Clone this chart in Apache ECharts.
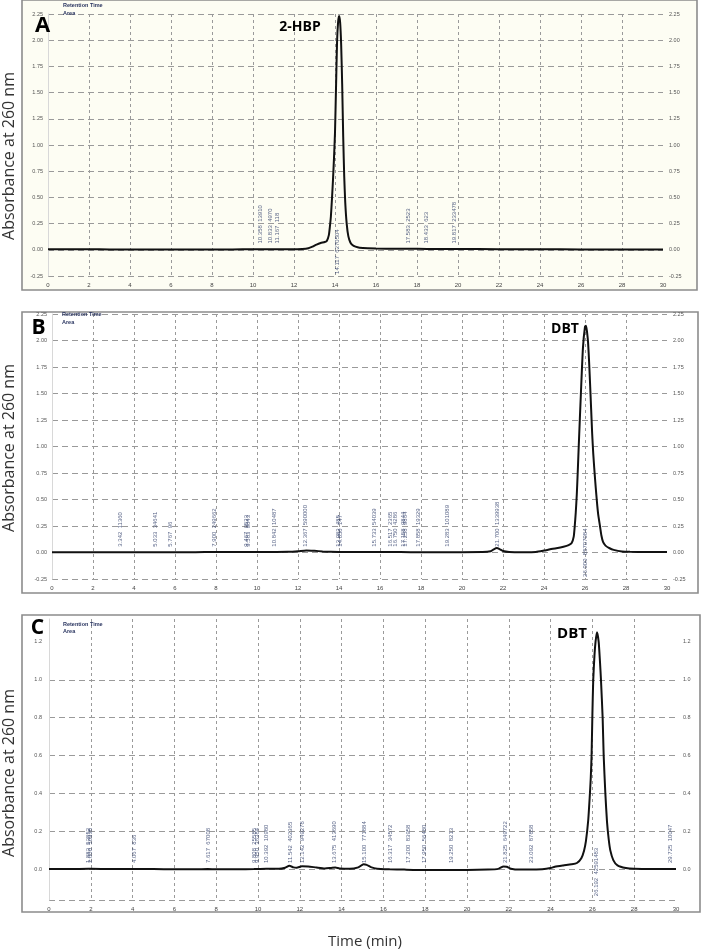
<!DOCTYPE html>
<html><head><meta charset="utf-8">
<script src="https://cdn.jsdelivr.net/npm/echarts@6/dist/echarts.min.js"></script>
<style>html,body{margin:0;padding:0;background:#fff}#c{width:701px;height:950px}</style>
</head><body><div id="c"></div>
<script>
// ---------- DATA ----------
const xTicksMin = 0, xTicksMax = 30, xTickStep = 2;
const yLabelsAB = [-0.25, 0, 0.25, 0.5, 0.75, 1, 1.25, 1.5, 1.75, 2, 2.25];
const yLabelsC = [0, 0.2, 0.4, 0.6, 0.8, 1.0, 1.2];

const curveA = [[0,0.005],[1,0.005],[2,0.005],[3,0.004],[4,0.004],[5,0.004],[6,0.004],[7,0.004],[8,0.004],[9,0.004],[10,0.005],[10.4,0.005],[11,0.005],[11.5,0.005],[12,0.006],[12.4,0.008],[12.7,0.015],[12.9,0.03],[13.1,0.05],[13.3,0.065],[13.5,0.075],[13.6,0.085],[13.7,0.14],[13.75,0.22],[13.8,0.32],[13.85,0.48],[13.9,0.66],[13.95,0.87],[14.0,1.12],[14.05,1.55],[14.1,1.98],[14.15,2.17],[14.2,2.23],[14.25,2.17],[14.3,1.96],[14.35,1.58],[14.4,1.08],[14.45,0.7],[14.5,0.45],[14.57,0.25],[14.65,0.13],[14.75,0.07],[14.85,0.045],[15.0,0.03],[15.2,0.02],[15.6,0.014],[16,0.012],[17,0.01],[18,0.009],[19,0.008],[20,0.007],[22,0.006],[24,0.005],[26,0.004],[28,0.003],[30,0.003]];

const curveB = [[0,0.002],[1,0.002],[2,0.002],[3,0.002],[3.34,0.003],[4,0.002],[5,0.002],[6,0.002],[7,0.003],[7.9,0.005],[8.5,0.004],[9.5,0.004],[10,0.004],[10.8,0.005],[11.5,0.006],[12.0,0.012],[12.4,0.02],[12.8,0.016],[13.2,0.01],[13.6,0.006],[14,0.005],[15,0.004],[15.7,0.005],[16.5,0.004],[17,0.004],[18,0.003],[19,0.003],[20,0.003],[21,0.004],[21.4,0.012],[21.55,0.03],[21.7,0.042],[21.85,0.03],[22.0,0.014],[22.3,0.005],[23,0.003],[23.6,0.005],[24.0,0.018],[24.3,0.03],[24.6,0.04],[24.95,0.055],[25.2,0.07],[25.35,0.09],[25.45,0.15],[25.5,0.25],[25.55,0.38],[25.6,0.55],[25.65,0.78],[25.7,1.03],[25.8,1.5],[25.9,1.93],[26.0,2.13],[26.05,2.14],[26.1,2.08],[26.15,1.98],[26.2,1.8],[26.25,1.58],[26.3,1.35],[26.35,1.12],[26.4,0.94],[26.45,0.8],[26.5,0.67],[26.55,0.55],[26.6,0.44],[26.65,0.35],[26.73,0.25],[26.8,0.16],[26.88,0.1],[27.0,0.065],[27.2,0.04],[27.4,0.025],[27.8,0.01],[28.2,0.006],[29,0.004],[30,0.004]];

const curveC = [[0,0.003],[1,0.003],[1.9,0.004],[2,0.004],[3,0.003],[4,0.003],[5,0.003],[6,0.002],[7,0.002],[7.6,0.003],[8,0.002],[9,0.002],[9.8,0.003],[10.4,0.004],[11,0.004],[11.3,0.01],[11.5,0.02],[11.7,0.012],[11.85,0.01],[12.1,0.018],[12.4,0.017],[12.8,0.011],[13.2,0.006],[13.5,0.009],[13.7,0.011],[13.9,0.006],[14.4,0.004],[14.8,0.012],[15.05,0.028],[15.2,0.025],[15.4,0.013],[15.7,0.005],[16.3,0.002],[17,0.0],[18,-0.002],[19,-0.002],[20,-0.002],[21,0.0],[21.5,0.004],[21.75,0.017],[21.9,0.015],[22.1,0.005],[22.5,0.0],[23,0.001],[23.6,0.002],[24.0,0.008],[24.2,0.015],[24.6,0.022],[25.0,0.028],[25.26,0.035],[25.47,0.06],[25.6,0.1],[25.69,0.15],[25.8,0.26],[25.87,0.38],[25.92,0.48],[25.96,0.6],[26.0,0.82],[26.04,1.0],[26.1,1.13],[26.15,1.2],[26.22,1.25],[26.3,1.2],[26.36,1.1],[26.41,1.0],[26.49,0.8],[26.54,0.6],[26.62,0.4],[26.7,0.25],[26.78,0.16],[26.86,0.1],[27.0,0.05],[27.2,0.022],[27.6,0.008],[28,0.004],[29,0.003],[30,0.003]];

const annotA = [[10.358,'13910'],[10.833,'4970'],[11.167,'118'],[17.583,'2523'],[18.433,'623'],[19.817,'233478']];
const annotABelow = [[14.117,'6270504']];
const annotB = [[3.342,'11360'],[5.033,'34641'],[5.767,'96'],[7.900,'249662'],[9.467,'9523'],[9.583,'9843'],[10.842,'10487'],[12.367,'590000'],[13.983,'485'],[14.050,'147'],[15.733,'54039'],[16.517,'2365'],[16.750,'4286'],[17.158,'9844'],[17.258,'9864'],[17.858,'19329'],[19.283,'101089'],[21.700,'1339938']];
const annotBBelow = [[26.000,'85707084']];
const annotC = [[1.883,'53852'],[2.000,'50938'],[4.067,'836'],[7.617,'67008'],[9.808,'25585'],[9.950,'36384'],[10.392,'10980'],[11.542,'402365'],[12.142,'949278'],[13.675,'413690'],[15.100,'771884'],[16.317,'34572'],[17.200,'83958'],[17.950,'56480'],[19.250,'8213'],[21.825,'649722'],[23.092,'87858'],[29.725,'10047']];
const annotCBelow = [[26.192,'42591483']];

const panelLetters = ['A','B','C'];
const peakNames = ['2-HBP','DBT','DBT'];
const yTitle = 'Absorbance at 260 nm';
const xTitle = 'Time (min)';

// ---------- CHART ----------
const chart = echarts.init(document.getElementById('c'), null, {renderer:'canvas'});
const gridCol = '#9a9a9a';
const lblFont = 'Liberation Sans';

function xAxisDef(gi){
  return {type:'value', gridIndex:gi, min:xTicksMin, max:xTicksMax, interval:xTickStep,
    axisLine:{show:false}, axisTick:{show:false},
    axisLabel:{fontSize:6, color:'#444', margin:6, fontFamily:lblFont},
    splitLine:{show:true, showMinLine:false, showMaxLine:false, lineStyle:{color:gridCol, type:[3,3], width:1}}};
}
function yAxisAB(gi, pos){
  const left = pos==='left';
  return {type:'value', gridIndex:gi, position:pos, min:-0.25, max:2.25, interval:0.25,
    axisLine:{show:left, lineStyle:{color:'#d8d8d8', width:1}}, axisTick:{show:false},
    axisLabel:{fontSize:5.5, color:'#555', margin:left?5:6, fontFamily:lblFont, formatter:v=>v.toFixed(2)},
    splitLine:{show:left, lineStyle:{color:gridCol, type:[6,4], width:1}}};
}
function yAxisC(gi, pos){
  const left = pos==='left';
  return {type:'value', gridIndex:gi, position:pos, min:-0.16, max:1.32,
    axisLine:{show:left, lineStyle:{color:'#d8d8d8', width:1}},
    axisTick:{show:false, customValues:[-0.16].concat(yLabelsC)},
    axisLabel:{fontSize:5.5, color:'#555', margin:7, fontFamily:lblFont, customValues:yLabelsC, formatter:v=>v.toFixed(1)},
    splitLine:{show:left, showMaxLine:false, lineStyle:{color:gridCol, type:[6,4], width:1}}};
}
function curve(data, xi, yi){
  return {type:'line', xAxisIndex:xi, yAxisIndex:yi, data:data, showSymbol:false, smooth:0.2,
    lineStyle:{color:'#111', width:2}, silent:true, z:5};
}
function annot(arr, xi, yi, anchorY){
  return {type:'scatter', xAxisIndex:xi, yAxisIndex:yi, symbolSize:1, silent:true, z:6,
    itemStyle:{color:'rgba(0,0,0,0)'},
    data: arr.map(([t,a]) => ({value:[t, anchorY], name: t.toFixed(3)+'  '+a})),
    label:{show:true, formatter:p=>p.name, rotate:90, position:'inside', align:'left', verticalAlign:'middle',
      fontSize:6, color:'#2b3a67', fontFamily:lblFont}};
}
function txt(x,y,text,size,weight,color,family,rot,align){
  return {type:'text', x:x, y:y, rotation:rot||0, z:20,
    style:{text:text, fontSize:size, fontWeight:weight||'normal', fill:color||'#000', fontFamily:family||'Open Sans',
      align:align||'center', verticalAlign:'middle'}};
}
function box(x,y,w,h,fill){
  return {type:'rect', shape:{x:x,y:y,width:w,height:h}, z:-10, silent:true,
    style:{fill:fill, stroke:'#8c8c8c', lineWidth:1.6}};
}

const option = {
  backgroundColor:'#ffffff',
  animation:false,
  grid:[
    {left:48, right:38, top:14, bottom:674},
    {left:52, right:34, top:314, bottom:371},
    {left:49, right:25, top:619, bottom:50}
  ],
  xAxis:[xAxisDef(0), xAxisDef(1), xAxisDef(2)],
  yAxis:[yAxisAB(0,'left'), yAxisAB(0,'right'), yAxisAB(1,'left'), yAxisAB(1,'right'), yAxisC(2,'left'), yAxisC(2,'right')],
  series:[
    curve(curveA,0,0), curve(curveB,1,2), curve(curveC,2,4),
    annot(annotA,0,0,0.06), annot(annotABelow,0,0,-0.23),
    annot(annotB,1,2,0.055), annot(annotBBelow,1,2,-0.23),
    annot(annotC,2,4,0.035), annot(annotCBelow,2,4,-0.14)
  ],
  graphic:[
    box(22,0,675,290,'#fdfdf3'),
    box(22,312,676,281,'#ffffff'),
    box(22,615,678,297,'#ffffff'),
    txt(42.5,25.5,panelLetters[0],22,'bold','#000'),
    txt(38.5,328.5,panelLetters[1],21,'bold','#000'),
    txt(37.5,628.5,panelLetters[2],21,'bold','#000'),
    txt(300,27,peakNames[0],14,'bold','#000'),
    txt(565,329,peakNames[1],14,'bold','#000'),
    txt(572,634,peakNames[2],15,'bold','#000'),
    txt(63,5,'Retention Time',5.5,'bold','#2a3560','Liberation Sans',0,'left'),
    txt(63,13,'Area',5.5,'bold','#2a3560','Liberation Sans',0,'left'),
    txt(62,314,'Retention Time',5.5,'bold','#2a3560','Liberation Sans',0,'left'),
    txt(62,322,'Area',5.5,'bold','#2a3560','Liberation Sans',0,'left'),
    txt(63,624,'Retention Time',5.5,'bold','#2a3560','Liberation Sans',0,'left'),
    txt(63,631,'Area',5.5,'bold','#2a3560','Liberation Sans',0,'left'),
    txt(9,156,yTitle,16,'normal','#333','Open Sans',Math.PI/2),
    txt(9,448,yTitle,16,'normal','#333','Open Sans',Math.PI/2),
    txt(9,773,yTitle,16,'normal','#333','Open Sans',Math.PI/2),
    txt(365,942,xTitle,15,'normal','#333','Open Sans')
  ]
};
chart.setOption(option);
</script>
</body></html>
